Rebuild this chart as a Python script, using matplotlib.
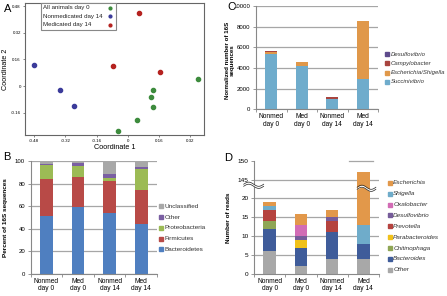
import numpy as np
import matplotlib
matplotlib.use("Agg")
import matplotlib.pyplot as plt
from matplotlib.lines import Line2D
from matplotlib.patches import Rectangle

plt.rcParams['font.family'] = ['Liberation Sans', 'DejaVu Sans']

W, H = 447, 296

# ---------------- data ----------------
# Panel A (PCoA)
green_x = [0.36, 0.13, 0.118, 0.13, 0.049, -0.048]
green_y = [0.042, -0.024, -0.064, -0.126, -0.204, -0.268]
blue_x = [-0.478, -0.347, -0.274]
blue_y = [0.126, -0.022, -0.122]
red_x = [0.059, -0.074, 0.166]
red_y = [0.44, 0.12, 0.084]
a_series = ["All animals day 0", "Nonmedicated day 14", "Medicated day 14"]
a_xticks = [-0.48, -0.32, -0.16, 0, 0.16, 0.32]
a_yticks = [0.48, 0.32, 0.16, 0, -0.16]

groups = ["Nonmed\nday 0", "Med\nday 0", "Nonmed\nday 14", "Med\nday 14"]

# Panel B (percent of 16S sequences), bottom -> top
b_names = ["Bacteroidetes", "Firmicutes", "Proteobacteria", "Other", "Unclassified"]
b_bacteroidetes = [51.5, 59.2, 54.4, 44.4]
b_firmicutes = [32.8, 26.6, 27.8, 30.5]
b_proteobacteria = [12.1, 10.4, 3.3, 18.0]
b_other = [1.5, 2.0, 3.5, 2.4]
b_unclassified = [2.1, 1.8, 11.0, 4.7]

# Panel C (normalized number of 16S sequences), bottom -> top
c_names = ["Succinivibrio", "Escherichia/Shigella", "Campylobacter", "Desulfovibrio"]
c_succinivibrio = [5320, 4170, 1000, 2970]
c_escherichia = [260, 420, 40, 5550]
c_campylobacter = [20, 10, 110, 50]
c_desulfovibrio = [10, 10, 50, 20]

# Panel D (number of reads), bottom -> top
d_names = ["Other", "Bacteroides", "Chitinophaga", "Parabacteroides", "Prevotella",
           "Desulfovibrio", "Oxalobacter", "Shigella", "Escherichia"]
d_other = [6, 2, 4, 4]
d_bacteroides = [6, 5, 7, 4]
d_chitinophaga = [2, 0, 0, 0]
d_parabacteroides = [0, 2, 0, 0]
d_prevotella = [3, 0, 3, 0]
d_desulfovibrio = [0, 1, 1, 0]
d_oxalobacter = [0, 3, 0, 0]
d_shigella = [1, 0, 0, 5]
d_escherichia = [1, 3, 2, 134]
d_ytick_vals = [0, 5, 10, 15, 20, 145, 150]

# ---------------- style ----------------
GRID = '#a6a6a6'
a_colors = ['#3d8b3d', '#3b3b9a', '#b5221f']
b_colors = ['#4f7fc0', '#b84a47', '#9cbb55', '#7a5fa2', '#a8a8a8']
c_colors = ['#6faccc', '#e0984a', '#a8443f', '#5e4b8c']
d_colors = ['#a8a8a8', '#3f5c9a', '#8fa655', '#f0c11a', '#b5433f',
            '#765c9a', '#d26cb5', '#6facca', '#e2984a']

fig = plt.figure(figsize=(W / 100, H / 100), dpi=100)


def fx(x):
    return x / W


def fy(y):
    return 1 - y / H


def box(l, t, r, b):
    return [l / W, 1 - b / H, (r - l) / W, (b - t) / H]


def style_bar_axes(ax, ymax, yticks):
    for s in ['top', 'right']:
        ax.spines[s].set_visible(False)
    for s in ['left', 'bottom']:
        ax.spines[s].set_color('#888888')
        ax.spines[s].set_linewidth(0.8)
    ax.set_xlim(-0.5, 3.5)
    ax.set_ylim(0, ymax)
    ax.set_yticks(yticks)
    ax.yaxis.grid(True, color=GRID, linewidth=0.9)
    ax.set_axisbelow(True)
    ax.tick_params(axis='y', length=2, width=0.6, color='#888888', labelsize=4.3, pad=2)
    ax.set_xticks(range(4))
    ax.set_xticklabels(groups, fontsize=4.8, linespacing=1.05)
    ax.tick_params(axis='x', length=0, pad=3)
    ax.set_xticks([-0.5, 0.5, 1.5, 2.5, 3.5], minor=True)
    ax.tick_params(axis='x', which='minor', length=2, width=0.6, color='#888888')


def stack(ax, series, colors, width=0.4, tr=None):
    x = np.arange(4)
    cum = np.zeros(4)
    for vals, col in zip(series, colors):
        vals = np.asarray(vals, dtype=float)
        top = cum + vals
        if tr is None:
            ax.bar(x, vals, width, bottom=cum, color=col, linewidth=0)
        else:
            b0 = np.array([tr(v) for v in cum])
            b1 = np.array([tr(v) for v in top])
            ax.bar(x, b1 - b0, width, bottom=b0, color=col, linewidth=0)
        cum = top


def legend(names, colors, x, y0, dy, italic=False, fs=4.6):
    for i, (n, c) in enumerate(zip(names, colors)):
        yy = y0 + i * dy
        fig.add_artist(Line2D([fx(x)], [fy(yy)], marker='s', markersize=2.2,
                              color=c, linestyle='none', transform=fig.transFigure))
        fig.text(fx(x + 3.5), fy(yy), n, fontsize=fs, va='center', ha='left',
                 style='italic' if italic else 'normal', color='#333333')


# ---------------- Panel A ----------------
axA = fig.add_axes(box(25, 3, 204, 135))
axA.scatter(green_x, green_y, s=9, color=a_colors[0], zorder=3)
axA.scatter(blue_x, blue_y, s=9, color=a_colors[1], zorder=3)
axA.scatter(red_x, red_y, s=9, color=a_colors[2], zorder=3)
axA.set_xlim(-0.526, 0.39)
axA.set_ylim(-0.294, 0.498)
axA.set_xticks(a_xticks)
axA.set_xticklabels([('%g' % v) if v != 0 else '0' for v in a_xticks], fontsize=3.2)
axA.set_yticks(a_yticks)
axA.set_yticklabels([('%g' % v) if v != 0 else '0' for v in a_yticks], fontsize=3.2)
axA.tick_params(length=1.5, width=0.5, color='#555555', pad=1.5)
for s in axA.spines.values():
    s.set_color('#666666')
    s.set_linewidth(0.8)
axA.set_xlabel('Coordinate 1', fontsize=5.2, labelpad=0.5)
axA.set_ylabel('Coordinate 2', fontsize=5.2, labelpad=1)

# legend of panel A: text left-aligned, marker on the right, framed box
fig.add_artist(Rectangle((fx(41), fy(29.5)), (116 - 41) / W, (29.5 - 3) / H,
                         transform=fig.transFigure, facecolor='white',
                         edgecolor='#888888', linewidth=0.8, zorder=4))
for i, (lab, col) in enumerate(zip(a_series, a_colors)):
    yy = 8 + i * 8.3
    t = fig.text(fx(43), fy(yy), lab, fontsize=4.4, ha='left', va='center', color='#222222')
    t.set_zorder(5)
    fig.add_artist(Line2D([fx(110)], [fy(yy)], marker='o', markersize=2, color=col,
                          linestyle='none', transform=fig.transFigure, zorder=5))

# ---------------- Panel B ----------------
axB = fig.add_axes(box(30.7, 161.3, 157, 274))
style_bar_axes(axB, 100, [0, 20, 40, 60, 80, 100])
stack(axB, [b_bacteroidetes, b_firmicutes, b_proteobacteria, b_other, b_unclassified], b_colors)
axB.set_ylabel('Percent of 16S sequences', fontsize=4.6, fontweight='bold', labelpad=5)
legend(b_names[::-1], b_colors[::-1], 161, 206.3, 10.75)

# ---------------- Panel C ----------------
axC = fig.add_axes(box(256, 6, 378, 109.3))
style_bar_axes(axC, 10000, [0, 2000, 4000, 6000, 8000, 10000])
stack(axC, [c_succinivibrio, c_escherichia, c_campylobacter, c_desulfovibrio], c_colors)
fig.text(fx(230), fy(60), 'Normalized number of 16S\nsequences', rotation=90,
         fontsize=4.4, fontweight='bold', ha='center', va='center', linespacing=1.0)
legend(c_names[::-1], c_colors[::-1], 387, 54, 9.3, italic=True, fs=4.3)

# ---------------- Panel D ----------------
def tr(v):
    return v if v <= 22.5 else v - 120


axD = fig.add_axes(box(254, 160.7, 379, 274))
style_bar_axes(axD, 30, [tr(v) for v in d_ytick_vals])
axD.set_yticklabels([str(v) for v in d_ytick_vals])
axD.tick_params(axis='y', labelsize=4.6)
axD.yaxis.grid(False)
for v in d_ytick_vals[1:-1]:
    axD.axhline(tr(v), color=GRID, linewidth=0.9, zorder=0)
axD.plot([2.55, 3.3], [tr(150), tr(150)], color=GRID, linewidth=0.9, zorder=0, clip_on=False)
stack(axD, [d_other, d_bacteroides, d_chitinophaga, d_parabacteroides, d_prevotella,
            d_desulfovibrio, d_oxalobacter, d_shigella, d_escherichia], d_colors, tr=tr)
axD.set_ylabel('Number of reads', fontsize=4.6, fontweight='bold', labelpad=5)


def squiggle(ax, x0, x1, yc, amp=0.55, gap=0.55):
    xs = np.linspace(x0, x1, 60)
    ph = 2 * np.pi * (xs - x0) / (x1 - x0)
    w = amp * np.sin(ph)
    ax.fill_between(xs, yc + w - gap / 2, yc + w + gap / 2, color='white', zorder=5,
                    clip_on=False, linewidth=0)
    ax.plot(xs, yc + w - gap / 2, color='#222222', linewidth=0.5, zorder=6, clip_on=False)
    ax.plot(xs, yc + w + gap / 2, color='#222222', linewidth=0.5, zorder=6, clip_on=False)


squiggle(axD, -0.83, -0.19, 23.5)
squiggle(axD, 2.8, 3.4, 22.7)
legend(d_names[::-1], d_colors[::-1], 389.7, 182.7, 10.9, italic=True, fs=4.6)

# ---------------- panel letters ----------------
for lab, x, y in [('A', 4, 9), ('B', 3, 157), ('C', 227, 7), ('D', 224, 158)]:
    fig.text(fx(x), fy(y), lab, fontsize=8, ha='left', va='center')

fig.savefig('out.png', dpi=100)
